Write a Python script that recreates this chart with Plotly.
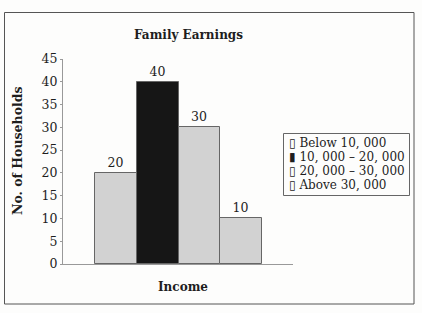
import plotly.graph_objects as go

categories = ["Below 10, 000", "10, 000 – 20, 000", "20, 000 – 30, 000", "Above 30, 000"]
households = [20, 40, 30, 10]
bar_colors = ["#d2d2d2", "#161616", "#d2d2d2", "#d2d2d2"]
legend_marks = ["▯", "▮", "▯", "▯"]
y_ticks = [0, 5, 10, 15, 20, 25, 30, 35, 40, 45]

FONT = "DejaVu Serif"
TXT = "#1e1e1e"
BG = "#fdfdfc"
L, R, T, B = 63, 129, 59, 49
W, H = 422, 313
pw, ph = W - L - R, H - T - B

def px_x(p):
    return (p - L) / pw

def px_y(p):
    return (H - B - p) / ph

fig = go.Figure()
fig.add_trace(go.Bar(
    x=list(range(len(categories))),
    y=households,
    width=1.0,
    marker=dict(color=bar_colors, line=dict(color="#666666", width=1)),
    text=[str(v) for v in households],
    textposition="outside",
    textfont=dict(family=FONT, size=12.5, color=TXT),
    cliponaxis=False,
    showlegend=False,
))

annotations = [
    dict(text="<b>Family Earnings</b>", xref="paper", yref="paper",
         x=px_x(188), y=px_y(35), xanchor="center", yanchor="middle", showarrow=False,
         font=dict(family=FONT, size=12, color=TXT)),
    dict(text="<b>Income</b>", xref="paper", yref="paper",
         x=px_x(182.5), y=px_y(287), xanchor="center", yanchor="middle", showarrow=False,
         font=dict(family=FONT, size=12, color=TXT)),
    dict(text="<b>No. of Households</b>", xref="paper", yref="paper", textangle=-90,
         x=px_x(17), y=px_y(151), xanchor="center", yanchor="middle", showarrow=False,
         font=dict(family=FONT, size=12.5, color=TXT)),
]
legend_y = [143, 157, 171, 185]
for m, c, ly in zip(legend_marks, categories, legend_y):
    annotations.append(dict(text=f"<span style='font-family:DejaVu Sans'>{m}</span>&nbsp;{c}",
                            xref="paper", yref="paper",
                            x=px_x(287), y=px_y(ly), xanchor="left", yanchor="middle",
                            showarrow=False, font=dict(family=FONT, size=12, color=TXT)))

fig.update_layout(
    width=W, height=H,
    margin=dict(l=L, r=R, t=T, b=B),
    paper_bgcolor=BG,
    plot_bgcolor=BG,
    font=dict(family=FONT, size=12, color=TXT),
    xaxis=dict(range=[-1.27, 4.24], showticklabels=False, ticks="", showgrid=False,
               zeroline=False, showline=True, linecolor="#999999", linewidth=1),
    yaxis=dict(range=[0, 45], tickvals=y_ticks, showgrid=False, zeroline=False,
               showline=True, linecolor="#999999", linewidth=1, ticks="outside",
               ticklen=2, tickcolor="#999999",
               tickfont=dict(family=FONT, size=12.5, color=TXT)),
    bargap=0,
    shapes=[
        dict(type="rect", xref="paper", yref="paper",
             x0=px_x(4.5), x1=px_x(414), y0=px_y(304), y1=px_y(12.5),
             line=dict(color="#555555", width=1)),
        dict(type="rect", xref="paper", yref="paper",
             x0=px_x(283.5), x1=px_x(409.5), y0=px_y(195.5), y1=px_y(133.5),
             line=dict(color="#666666", width=1)),
    ],
    annotations=annotations,
)

fig.write_html("out.html")
